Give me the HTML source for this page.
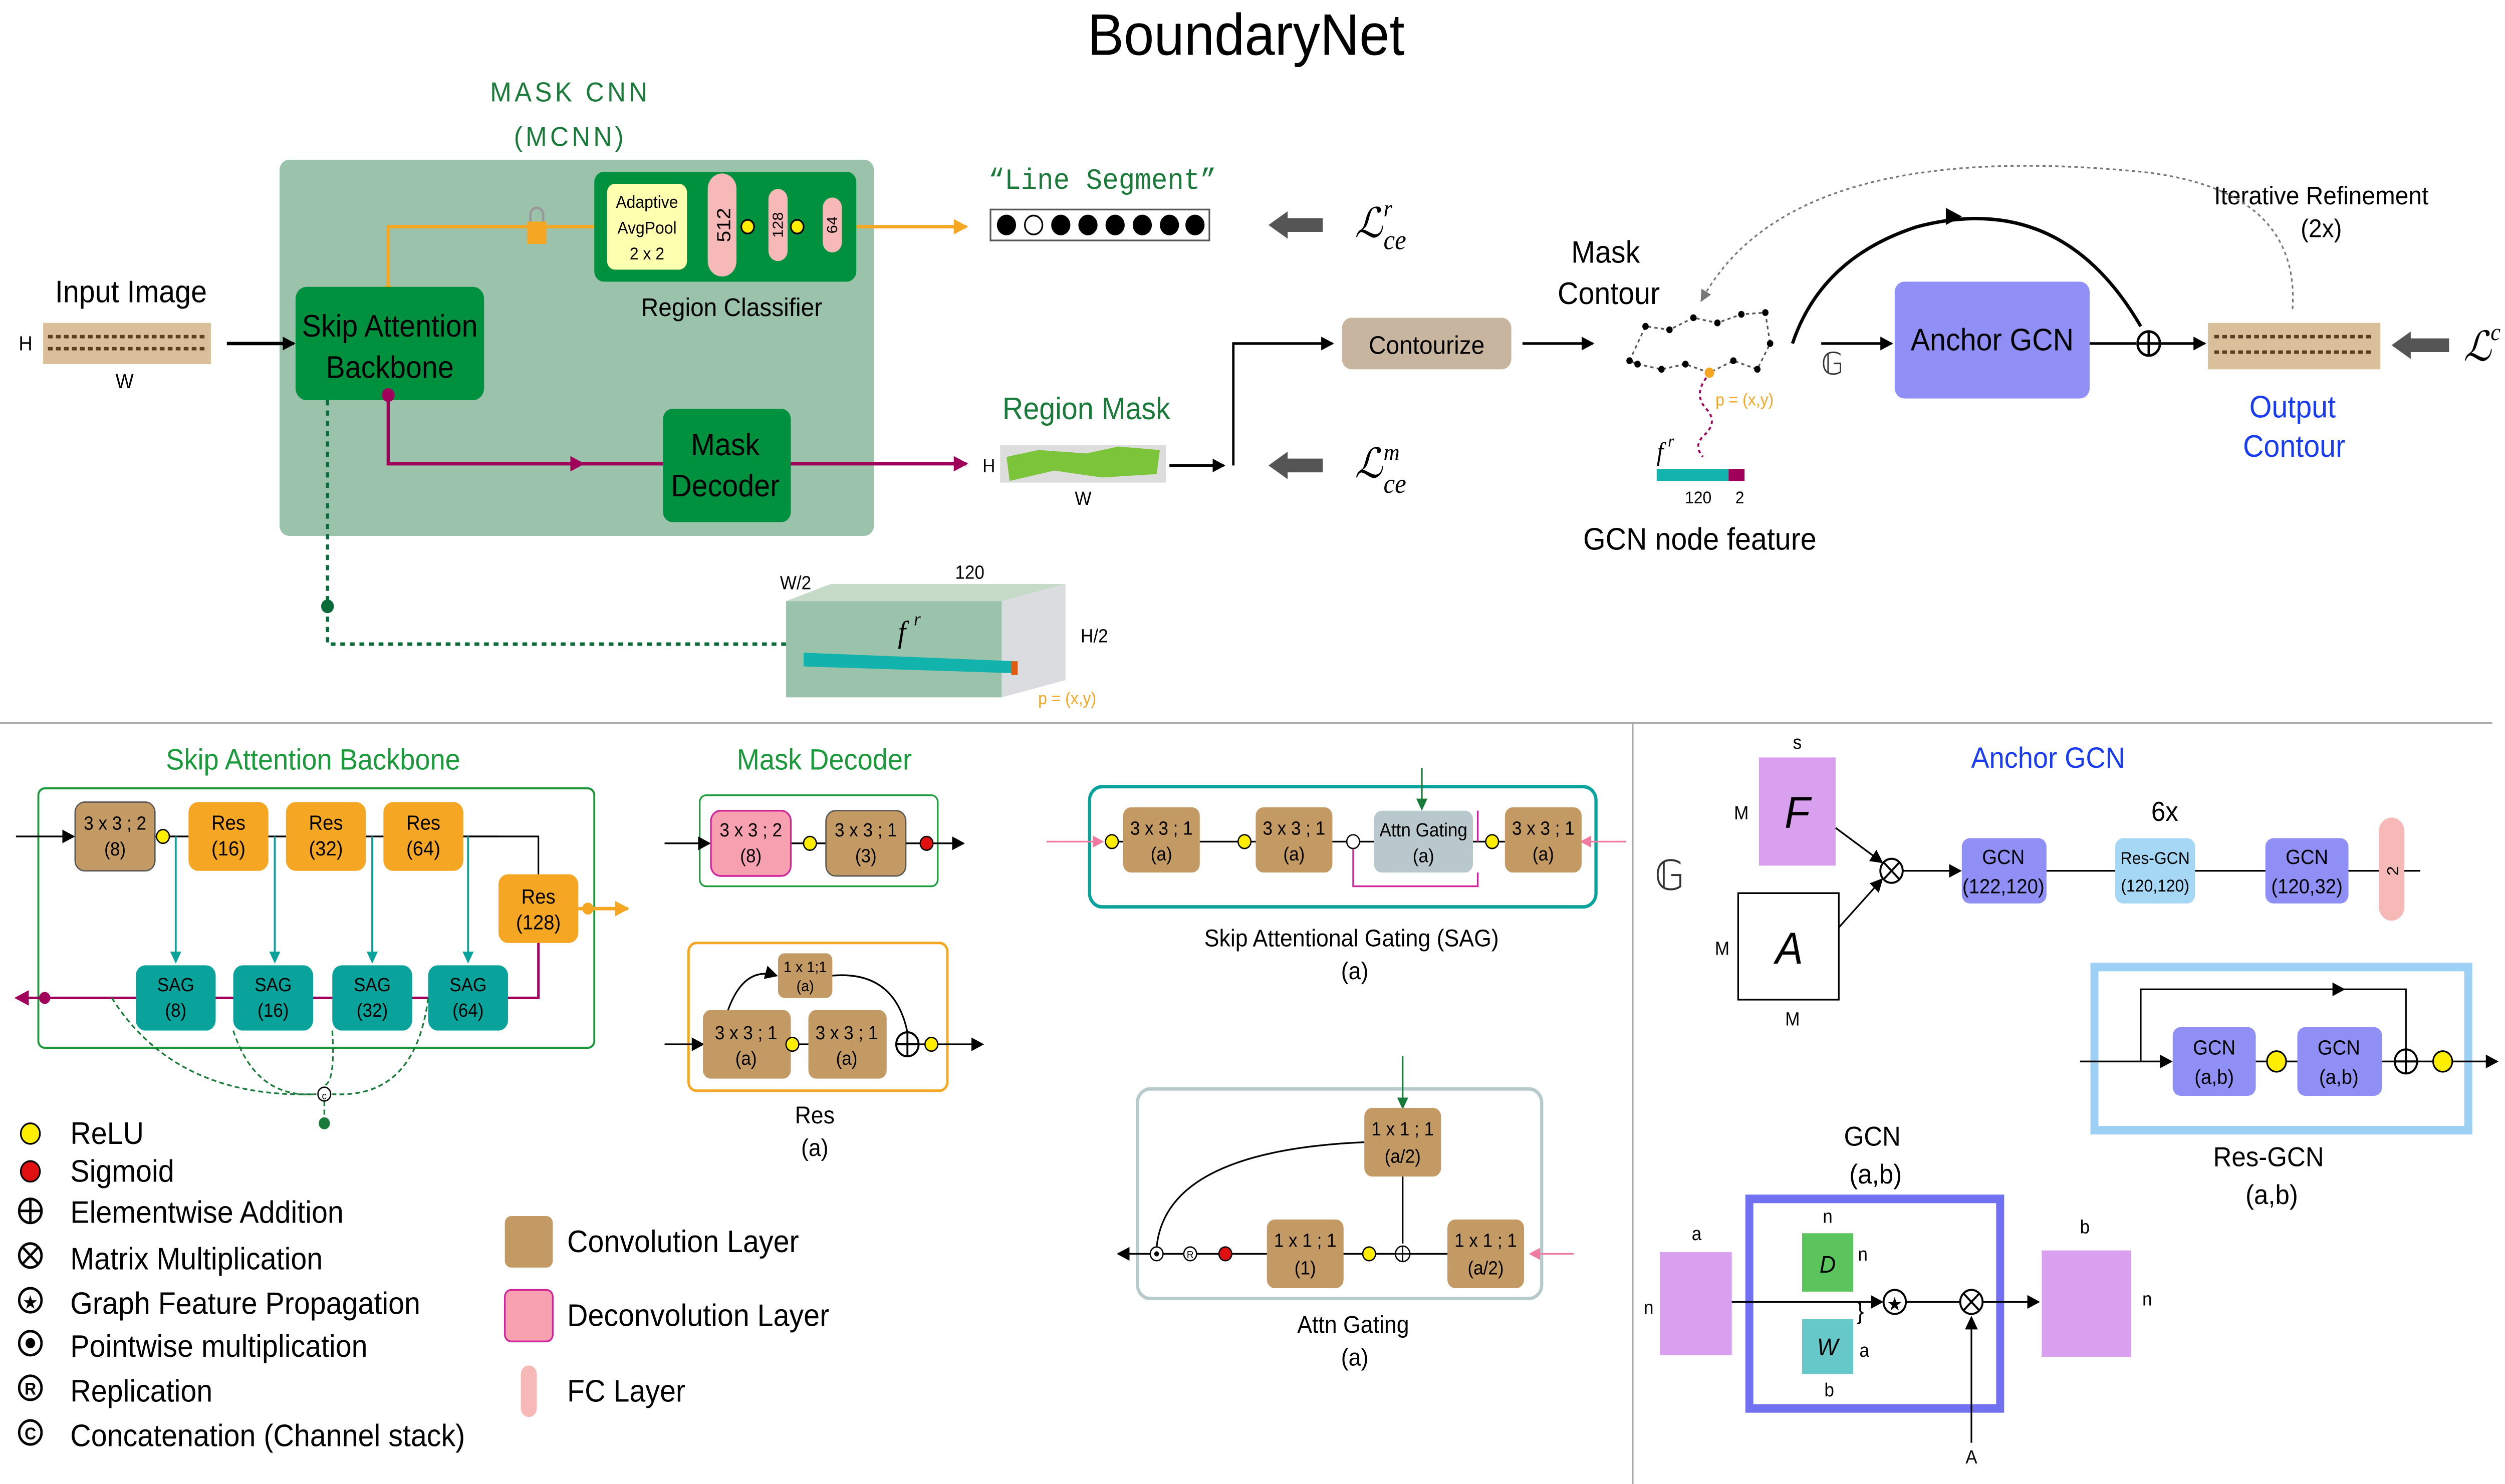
<!DOCTYPE html>
<html><head><meta charset="utf-8"><style>
html,body{margin:0;padding:0;background:#fff;width:100%;height:100%;overflow:hidden}
svg{display:block;position:fixed;left:0;top:0;width:100vw;height:100vh}
text{font-family:"Liberation Sans",sans-serif}
.serif{font-family:"Liberation Serif",serif;font-style:italic}
.mono{font-family:"Liberation Mono",monospace}
</style></head><body>
<svg viewBox="0 0 1568 864" preserveAspectRatio="none" xmlns="http://www.w3.org/2000/svg">
<defs>
<marker id="ab" markerWidth="8" markerHeight="8" refX="7" refY="4" orient="auto" markerUnits="userSpaceOnUse"><path d="M0,0 L8,4 L0,8z" fill="#000"/></marker>
<marker id="ao" markerWidth="9" markerHeight="9" refX="8" refY="4.5" orient="auto" markerUnits="userSpaceOnUse"><path d="M0,0 L9,4.5 L0,9z" fill="#f5a623"/></marker>
<marker id="am" markerWidth="9" markerHeight="9" refX="8" refY="4.5" orient="auto" markerUnits="userSpaceOnUse"><path d="M0,0 L9,4.5 L0,9z" fill="#a0005a"/></marker>
<marker id="at" markerWidth="7" markerHeight="7" refX="6" refY="3.5" orient="auto" markerUnits="userSpaceOnUse"><path d="M0,0 L7,3.5 L0,7z" fill="#0aa39b"/></marker>
<marker id="ag" markerWidth="7" markerHeight="7" refX="6" refY="3.5" orient="auto" markerUnits="userSpaceOnUse"><path d="M0,0 L7,3.5 L0,7z" fill="#1a7a3a"/></marker>
<marker id="ap" markerWidth="7" markerHeight="7" refX="6" refY="3.5" orient="auto" markerUnits="userSpaceOnUse"><path d="M0,0 L7,3.5 L0,7z" fill="#f07aa0"/></marker>
<marker id="agr" markerWidth="7" markerHeight="7" refX="6" refY="3.5" orient="auto" markerUnits="userSpaceOnUse"><path d="M0,0 L7,3.5 L0,7z" fill="#777"/></marker>
</defs>

<text x="780" y="32" font-size="34" text-anchor="middle">BoundaryNet</text>

<text x="357" y="59" font-size="16" fill="#1a7a3a" text-anchor="middle" letter-spacing="2">MASK CNN</text>
<text x="357" y="85" font-size="16" fill="#1a7a3a" text-anchor="middle" letter-spacing="2">(MCNN)</text>
<rect x="175" y="93" width="372" height="219" rx="6" fill="#9bc2ab"/>

<text x="82" y="176" font-size="18" text-anchor="middle">Input Image</text>
<rect x="27" y="188" width="105" height="24" fill="#d9c09a"/>
<path d="M30,196 h98 M30,203 h98" stroke="#5a4020" stroke-width="2" stroke-dasharray="3 2"/>
<text x="16" y="204" font-size="12" text-anchor="middle">H</text>
<text x="78" y="226" font-size="12" text-anchor="middle">W</text>
<line x1="142" y1="200" x2="184" y2="200" stroke="#000" stroke-width="2" marker-end="url(#ab)"/>

<path d="M243,170 V132 H605" fill="none" stroke="#f5a623" stroke-width="2" marker-end="url(#ao)"/>
<circle cx="243" cy="170" r="4" fill="#f5a623"/>
<rect x="330" y="129" width="12" height="13" fill="#f5a623"/>
<path d="M332,129 v-4 a4,4 0 0 1 8,0 v4" fill="none" stroke="#999" stroke-width="1.5"/>

<rect x="185" y="167" width="118" height="66" rx="7" fill="#00913f"/>
<text x="244" y="196" font-size="18" text-anchor="middle">Skip Attention</text>
<text x="244" y="220" font-size="18" text-anchor="middle">Backbone</text>

<rect x="372" y="100" width="164" height="64" rx="6" fill="#00913f"/>
<rect x="380" y="107" width="50" height="50" rx="5" fill="#ffffb0"/>
<text x="405" y="121" font-size="10" text-anchor="middle">Adaptive</text>
<text x="405" y="136" font-size="10" text-anchor="middle">AvgPool</text>
<text x="405" y="151" font-size="10" text-anchor="middle">2 x 2</text>
<rect x="443" y="101" width="18" height="60" rx="9" fill="#f7b8b8"/>
<text x="457" y="131" font-size="12" text-anchor="middle" transform="rotate(-90 457 131)">512</text>
<circle cx="468" cy="132" r="4" fill="#ffee00" stroke="#000" stroke-width="1"/>
<rect x="481" y="110" width="12" height="42" rx="6" fill="#f7b8b8"/>
<text x="490" y="131" font-size="9" text-anchor="middle" transform="rotate(-90 490 131)">128</text>
<circle cx="499" cy="132" r="4" fill="#ffee00" stroke="#000" stroke-width="1"/>
<rect x="515" y="115" width="12" height="32" rx="6" fill="#f7b8b8"/>
<text x="524" y="131" font-size="9" text-anchor="middle" transform="rotate(-90 524 131)">64</text>
<text x="458" y="184" font-size="15" text-anchor="middle">Region Classifier</text>

<path d="M243,230 V270 H365" fill="none" stroke="#a0005a" stroke-width="2" marker-end="url(#am)"/>
<line x1="365" y1="270" x2="415" y2="270" stroke="#a0005a" stroke-width="2"/>
<circle cx="243" cy="230" r="4" fill="#a0005a"/>
<rect x="415" y="238" width="80" height="66" rx="6" fill="#00913f"/>
<text x="454" y="265" font-size="18" text-anchor="middle">Mask</text>
<text x="454" y="289" font-size="18" text-anchor="middle">Decoder</text>
<line x1="495" y1="270" x2="605" y2="270" stroke="#a0005a" stroke-width="2" marker-end="url(#am)"/>

<text x="690" y="110" font-size="17" fill="#1a7a3a" text-anchor="middle" class="mono">“Line Segment”</text>
<rect x="620" y="122" width="137" height="18" fill="#fff" stroke="#555" stroke-width="1"/>
<g fill="#000"><circle cx="630" cy="131" r="6"/><circle cx="664" cy="131" r="6"/><circle cx="681" cy="131" r="6"/><circle cx="698" cy="131" r="6"/><circle cx="715" cy="131" r="6"/><circle cx="732" cy="131" r="6"/><circle cx="748" cy="131" r="6"/></g>
<circle cx="647" cy="131" r="5.5" fill="#fff" stroke="#000" stroke-width="1"/>
<path d="M794,131 l12,-8 v4 h22 v8 h-22 v4z" fill="#555"/>
<text x="848" y="138" font-size="24" class="serif">ℒ</text>
<text x="866" y="126" font-size="14" class="serif">r</text>
<text x="866" y="145" font-size="16" class="serif">ce</text>

<text x="680" y="244" font-size="18" fill="#1a7a3a" text-anchor="middle">Region Mask</text>
<rect x="626" y="259" width="104" height="22" fill="#ddd"/>
<path d="M630,266 L650,262 L680,264 L700,260 L726,262 L724,276 L690,278 L660,274 L632,280z" fill="#7cc43a"/>
<text x="619" y="275" font-size="11" text-anchor="middle">H</text>
<text x="678" y="294" font-size="11" text-anchor="middle">W</text>
<line x1="732" y1="271" x2="766" y2="271" stroke="#000" stroke-width="1.5" marker-end="url(#ab)"/>
<path d="M772,271 V200 H834" fill="none" stroke="#000" stroke-width="1.5" marker-end="url(#ab)"/>
<path d="M794,271 l12,-8 v4 h22 v8 h-22 v4z" fill="#555"/>
<text x="848" y="278" font-size="24" class="serif">ℒ</text>
<text x="866" y="268" font-size="14" class="serif">m</text>
<text x="866" y="287" font-size="16" class="serif">ce</text>

<rect x="840" y="185" width="106" height="30" rx="6" fill="#c8b5a0"/>
<text x="893" y="206" font-size="15" text-anchor="middle">Contourize</text>
<line x1="953" y1="200" x2="997" y2="200" stroke="#000" stroke-width="1.5" marker-end="url(#ab)"/>

<text x="1005" y="153" font-size="18" text-anchor="middle">Mask</text>
<text x="1007" y="177" font-size="18" text-anchor="middle">Contour</text>
<path d="M1020,210 L1030,190 L1045,192 L1060,185 L1075,188 L1090,183 L1105,182 L1108,200 L1100,215 L1085,210 L1070,217 L1055,212 L1040,215 L1025,212 Z" fill="none" stroke="#555" stroke-width="1" stroke-dasharray="2 2"/>
<g fill="#000"><circle cx="1020" cy="210" r="2"/><circle cx="1030" cy="190" r="2"/><circle cx="1045" cy="192" r="2"/><circle cx="1060" cy="185" r="2"/><circle cx="1075" cy="188" r="2"/><circle cx="1090" cy="183" r="2"/><circle cx="1105" cy="182" r="2"/><circle cx="1108" cy="200" r="2"/><circle cx="1100" cy="215" r="2"/><circle cx="1085" cy="210" r="2"/><circle cx="1055" cy="212" r="2"/><circle cx="1040" cy="215" r="2"/><circle cx="1025" cy="212" r="2"/></g>
<circle cx="1070" cy="217" r="3" fill="#f5a623"/>
<text x="1092" y="236" font-size="10" fill="#f5a623" text-anchor="middle">p = (x,y)</text>
<path d="M1068,220 q-8,10 0,18 q8,8 -2,16 q-6,6 0,12" fill="none" stroke="#a0005a" stroke-width="1.2" stroke-dasharray="2 2"/>
<text x="1037" y="268" font-size="15" class="serif">f</text>
<text x="1044" y="260" font-size="10" class="serif">r</text>
<rect x="1037" y="273" width="45" height="7" fill="#13b3ad"/>
<rect x="1082" y="273" width="10" height="7" fill="#a0005a"/>
<text x="1063" y="293" font-size="10" text-anchor="middle">120</text>
<text x="1089" y="293" font-size="10" text-anchor="middle">2</text>
<text x="1064" y="320" font-size="18" text-anchor="middle">GCN node feature</text>

<text x="1147" y="218" font-size="18" text-anchor="middle" fill="#333">𝔾</text>
<path d="M1122,200 Q1140,150 1200,132 Q1290,110 1340,190" fill="none" stroke="#000" stroke-width="2"/>
<path d="M1218,121 l10,5 l-10,5z" fill="#000"/>
<line x1="1140" y1="200" x2="1184" y2="200" stroke="#000" stroke-width="1.5" marker-end="url(#ab)"/>
<rect x="1186" y="164" width="122" height="68" rx="6" fill="#8f8ff5"/>
<text x="1247" y="204" font-size="18" text-anchor="middle">Anchor GCN</text>
<line x1="1308" y1="200" x2="1337" y2="200" stroke="#000" stroke-width="1.5"/>
<circle cx="1345" cy="200" r="7" fill="#fff" stroke="#000" stroke-width="1.5"/>
<path d="M1338,200 h14 M1345,193 v14" stroke="#000" stroke-width="1.5"/>
<line x1="1352" y1="200" x2="1380" y2="200" stroke="#000" stroke-width="1.5" marker-end="url(#ab)"/>
<rect x="1382" y="188" width="108" height="27" fill="#d9c09a"/>
<path d="M1386,196 h100 M1386,205 h100" stroke="#5a4020" stroke-width="2" stroke-dasharray="3 2"/>
<text x="1435" y="243" font-size="18" fill="#1a3cf0" text-anchor="middle">Output</text>
<text x="1436" y="266" font-size="18" fill="#1a3cf0" text-anchor="middle">Contour</text>
<text x="1453" y="119" font-size="15" text-anchor="middle">Iterative Refinement</text>
<text x="1453" y="138" font-size="15" text-anchor="middle">(2x)</text>
<path d="M1435,180 Q1440,110 1340,100 Q1120,80 1065,175" fill="none" stroke="#777" stroke-width="1" stroke-dasharray="2 2" marker-end="url(#agr)"/>
<path d="M1497,201 l12,-8 v4 h24 v8 h-24 v4z" fill="#555"/>
<text x="1542" y="210" font-size="24" class="serif">ℒ</text>
<text x="1559" y="198" font-size="14" class="serif">c</text>

<path d="M205,233 V375 H492" fill="none" stroke="#0a6a3a" stroke-width="2" stroke-dasharray="3 3"/>
<circle cx="205" cy="353" r="4" fill="#0a6a3a"/>
<path d="M492,350 L520,340 L667,340 L627,350z" fill="#c6dac8"/>
<path d="M627,350 L667,340 L667,396 L627,406z" fill="#dadce0"/>
<rect x="492" y="350" width="135" height="56" fill="#9bc2ab"/>
<path d="M503,380 L637,385 L637,392 L503,388z" fill="#13b3ad"/>
<rect x="633" y="385" width="4" height="8" fill="#e05a10"/>
<text x="498" y="343" font-size="11" text-anchor="middle">W/2</text>
<text x="607" y="337" font-size="11" text-anchor="middle">120</text>
<text x="685" y="374" font-size="11" text-anchor="middle">H/2</text>
<text x="562" y="374" font-size="18" class="serif">f</text>
<text x="572" y="364" font-size="11" class="serif">r</text>
<text x="668" y="410" font-size="10" fill="#f5a623" text-anchor="middle">p = (x,y)</text>

<line x1="0" y1="421" x2="1560" y2="421" stroke="#aaa" stroke-width="1"/>
<line x1="1022" y1="421" x2="1022" y2="864" stroke="#aaa" stroke-width="1"/>

<text x="196" y="448" font-size="17" fill="#1a9a3a" text-anchor="middle">Skip Attention Backbone</text>
<rect x="24" y="459" width="348" height="151" rx="4" fill="none" stroke="#1a9a3a" stroke-width="1.2"/>
<line x1="10" y1="487" x2="46" y2="487" stroke="#000" stroke-width="1" marker-end="url(#ab)"/>
<line x1="97" y1="487" x2="312" y2="487" stroke="#000" stroke-width="1"/>
<path d="M290,487 H337 V509" fill="none" stroke="#000" stroke-width="1"/>
<rect x="47" y="467" width="50" height="40" rx="6" fill="#c49a64" stroke="#555" stroke-width="0.8"/>
<text x="72" y="483" font-size="11" text-anchor="middle">3 x 3 ; 2</text>
<text x="72" y="498" font-size="11" text-anchor="middle">(8)</text>
<circle cx="102" cy="487" r="4" fill="#ffee00" stroke="#000" stroke-width="0.8"/>
<g font-size="12" text-anchor="middle">
<rect x="118" y="467" width="50" height="40" rx="6" fill="#f5a623"/><text x="143" y="483">Res</text><text x="143" y="498">(16)</text>
<rect x="179" y="467" width="50" height="40" rx="6" fill="#f5a623"/><text x="204" y="483">Res</text><text x="204" y="498">(32)</text>
<rect x="240" y="467" width="50" height="40" rx="6" fill="#f5a623"/><text x="265" y="483">Res</text><text x="265" y="498">(64)</text>
<rect x="312" y="509" width="50" height="40" rx="6" fill="#f5a623"/><text x="337" y="526">Res</text><text x="337" y="541">(128)</text>
</g>
<line x1="362" y1="529" x2="393" y2="529" stroke="#f5a623" stroke-width="2" marker-end="url(#ao)"/>
<circle cx="368" cy="529" r="3.5" fill="#f5a623"/>
<g stroke="#0aa39b" stroke-width="1.2">
<line x1="110" y1="487" x2="110" y2="560" marker-end="url(#at)"/>
<line x1="172" y1="487" x2="172" y2="560" marker-end="url(#at)"/>
<line x1="233" y1="487" x2="233" y2="560" marker-end="url(#at)"/>
<line x1="293" y1="487" x2="293" y2="560" marker-end="url(#at)"/>
</g>
<path d="M337,549 V581 H10" fill="none" stroke="#a0005a" stroke-width="1.5" marker-end="url(#am)"/>
<circle cx="28" cy="581" r="3.5" fill="#a0005a"/>
<g font-size="11" text-anchor="middle">
<rect x="85" y="562" width="50" height="38" rx="6" fill="#0aa39b"/><text x="110" y="577">SAG</text><text x="110" y="592">(8)</text>
<rect x="146" y="562" width="50" height="38" rx="6" fill="#0aa39b"/><text x="171" y="577">SAG</text><text x="171" y="592">(16)</text>
<rect x="208" y="562" width="50" height="38" rx="6" fill="#0aa39b"/><text x="233" y="577">SAG</text><text x="233" y="592">(32)</text>
<rect x="268" y="562" width="50" height="38" rx="6" fill="#0aa39b"/><text x="293" y="577">SAG</text><text x="293" y="592">(64)</text>
</g>
<g fill="none" stroke="#1a7a3a" stroke-width="1" stroke-dasharray="3 2">
<path d="M70,581 Q110,640 198,637"/><path d="M146,600 Q160,640 198,637"/><path d="M208,600 Q210,630 203,632"/><path d="M268,581 Q260,640 208,637"/>
<line x1="203" y1="641" x2="203" y2="652"/>
</g>
<circle cx="203" cy="637" r="4" fill="#fff" stroke="#000" stroke-width="0.8"/><text x="203" y="640" font-size="6" text-anchor="middle">c</text>
<circle cx="203" cy="654" r="3.5" fill="#1a7a3a"/>

<text x="516" y="448" font-size="17" fill="#1a9a3a" text-anchor="middle">Mask Decoder</text>
<rect x="438" y="463" width="149" height="53" rx="4" fill="none" stroke="#1a9a3a" stroke-width="1"/>
<line x1="416" y1="491" x2="444" y2="491" stroke="#000" stroke-width="1" marker-end="url(#ab)"/>
<line x1="495" y1="491" x2="517" y2="491" stroke="#000" stroke-width="1"/>
<rect x="445" y="472" width="50" height="38" rx="6" fill="#f7a0b0" stroke="#d0209a" stroke-width="1"/>
<text x="470" y="487" font-size="11" text-anchor="middle">3 x 3 ; 2</text><text x="470" y="502" font-size="11" text-anchor="middle">(8)</text>
<circle cx="507" cy="491" r="4" fill="#ffee00" stroke="#000" stroke-width="0.8"/>
<rect x="517" y="472" width="50" height="38" rx="6" fill="#c49a64" stroke="#555" stroke-width="0.8"/>
<text x="542" y="487" font-size="11" text-anchor="middle">3 x 3 ; 1</text><text x="542" y="502" font-size="11" text-anchor="middle">(3)</text>
<line x1="567" y1="491" x2="603" y2="491" stroke="#000" stroke-width="1" marker-end="url(#ab)"/>
<circle cx="580" cy="491" r="4" fill="#e01010" stroke="#000" stroke-width="0.8"/>

<rect x="431" y="549" width="162" height="86" rx="5" fill="none" stroke="#f5a623" stroke-width="1.5"/>
<line x1="416" y1="608" x2="440" y2="608" stroke="#000" stroke-width="1" marker-end="url(#ab)"/>
<path d="M455,590 Q465,562 486,568" fill="none" stroke="#000" stroke-width="1" marker-end="url(#ab)"/>
<path d="M521,568 Q560,565 568,601" fill="none" stroke="#000" stroke-width="1"/>
<rect x="487" y="555" width="34" height="26" rx="4" fill="#c49a64"/>
<text x="504" y="566" font-size="9" text-anchor="middle">1 x 1;1</text><text x="504" y="577" font-size="9" text-anchor="middle">(a)</text>
<line x1="495" y1="608" x2="506" y2="608" stroke="#000"/>
<line x1="561" y1="608" x2="615" y2="608" stroke="#000" marker-end="url(#ab)"/>
<rect x="440" y="588" width="55" height="40" rx="5" fill="#c49a64"/>
<text x="467" y="605" font-size="11" text-anchor="middle">3 x 3 ; 1</text><text x="467" y="620" font-size="11" text-anchor="middle">(a)</text>
<circle cx="496" cy="608" r="4" fill="#ffee00" stroke="#000" stroke-width="0.8"/>
<rect x="506" y="588" width="49" height="40" rx="5" fill="#c49a64"/>
<text x="530" y="605" font-size="11" text-anchor="middle">3 x 3 ; 1</text><text x="530" y="620" font-size="11" text-anchor="middle">(a)</text>
<circle cx="568" cy="608" r="7" fill="#fff" stroke="#000" stroke-width="1.2"/><path d="M561,608 h14 M568,601 v14" stroke="#000" stroke-width="1.2"/>
<circle cx="583" cy="608" r="4" fill="#ffee00" stroke="#000" stroke-width="0.8"/>
<text x="510" y="654" font-size="14" text-anchor="middle">Res</text><text x="510" y="673" font-size="14" text-anchor="middle">(a)</text>

<rect x="682" y="458" width="317" height="70" rx="8" fill="none" stroke="#0aa39b" stroke-width="2"/>
<line x1="655" y1="490" x2="690" y2="490" stroke="#f07aa0" stroke-width="1" marker-end="url(#ap)"/>
<line x1="1018" y1="490" x2="990" y2="490" stroke="#f07aa0" stroke-width="1" marker-end="url(#ap)"/>
<line x1="890" y1="447" x2="890" y2="471" stroke="#1a7a3a" stroke-width="1" marker-end="url(#ag)"/>
<line x1="700" y1="490" x2="942" y2="490" stroke="#000" stroke-width="1"/>
<path d="M847,494 V516 H925 V508 M925,490 V472" fill="none" stroke="#d0209a" stroke-width="1"/>
<circle cx="696" cy="490" r="4" fill="#ffee00" stroke="#000" stroke-width="0.8"/>
<g font-size="11" text-anchor="middle">
<rect x="703" y="470" width="48" height="38" rx="5" fill="#c49a64"/><text x="727" y="486">3 x 3 ; 1</text><text x="727" y="501">(a)</text>
<circle cx="779" cy="490" r="4" fill="#ffee00" stroke="#000" stroke-width="0.8"/>
<rect x="786" y="470" width="48" height="38" rx="5" fill="#c49a64"/><text x="810" y="486">3 x 3 ; 1</text><text x="810" y="501">(a)</text>
<circle cx="847" cy="490" r="4" fill="#fff" stroke="#000" stroke-width="0.8"/>
<rect x="860" y="472" width="62" height="36" rx="5" fill="#b8c8cc"/><text x="891" y="487">Attn Gating</text><text x="891" y="502">(a)</text>
<circle cx="934" cy="490" r="4" fill="#ffee00" stroke="#000" stroke-width="0.8"/>
<rect x="942" y="470" width="48" height="38" rx="5" fill="#c49a64"/><text x="966" y="486">3 x 3 ; 1</text><text x="966" y="501">(a)</text>
</g>
<text x="846" y="551" font-size="14" text-anchor="middle">Skip Attentional Gating (SAG)</text>
<text x="848" y="570" font-size="14" text-anchor="middle">(a)</text>

<rect x="712" y="634" width="253" height="122" rx="8" fill="none" stroke="#b7cacd" stroke-width="2"/>
<line x1="878" y1="615" x2="878" y2="645" stroke="#1a7a3a" stroke-width="1" marker-end="url(#ag)"/>
<line x1="878" y1="685" x2="878" y2="724" stroke="#000" stroke-width="1"/>
<line x1="985" y1="730" x2="958" y2="730" stroke="#f07aa0" stroke-width="1" marker-end="url(#ap)"/>
<line x1="906" y1="730" x2="700" y2="730" stroke="#000" stroke-width="1" marker-end="url(#ab)"/>
<path d="M724,726 Q730,670 854,665" fill="none" stroke="#000" stroke-width="1"/>
<g font-size="11" text-anchor="middle">
<rect x="854" y="645" width="48" height="40" rx="5" fill="#c49a64"/><text x="878" y="661">1 x 1 ; 1</text><text x="878" y="677">(a/2)</text>
<rect x="793" y="710" width="48" height="40" rx="5" fill="#c49a64"/><text x="817" y="726">1 x 1 ; 1</text><text x="817" y="742">(1)</text>
<rect x="906" y="710" width="48" height="40" rx="5" fill="#c49a64"/><text x="930" y="726">1 x 1 ; 1</text><text x="930" y="742">(a/2)</text>
</g>
<circle cx="857" cy="730" r="4" fill="#ffee00" stroke="#000" stroke-width="0.8"/>
<circle cx="878" cy="730" r="4.5" fill="#fff" stroke="#000" stroke-width="0.8"/><path d="M873.5,730 h9 M878,725.5 v9" stroke="#000" stroke-width="0.8"/>
<circle cx="767" cy="730" r="4" fill="#e01010" stroke="#000" stroke-width="0.8"/>
<circle cx="745" cy="730" r="4" fill="#fff" stroke="#000" stroke-width="0.8"/><text x="745" y="732.5" font-size="6" text-anchor="middle">R</text>
<circle cx="724" cy="730" r="4" fill="#fff" stroke="#000" stroke-width="0.8"/><circle cx="724" cy="730" r="1.5" fill="#000"/>
<text x="847" y="776" font-size="14" text-anchor="middle">Attn Gating</text>
<text x="848" y="795" font-size="14" text-anchor="middle">(a)</text>

<g font-size="18">
<circle cx="19" cy="660" r="6" fill="#ffee00" stroke="#000" stroke-width="1"/><text x="44" y="666">ReLU</text>
<circle cx="19" cy="682" r="6" fill="#e01010" stroke="#000" stroke-width="1"/><text x="44" y="688">Sigmoid</text>
<circle cx="19" cy="705" r="7" fill="#fff" stroke="#000" stroke-width="1.5"/><path d="M12,705 h14 M19,698 v14" stroke="#000" stroke-width="1.5"/><text x="44" y="712">Elementwise Addition</text>
<circle cx="19" cy="731" r="7" fill="#fff" stroke="#000" stroke-width="1.5"/><path d="M14,726 l10,10 M24,726 l-10,10" stroke="#000" stroke-width="1.5"/><text x="44" y="739">Matrix Multiplication</text>
<circle cx="19" cy="757" r="7" fill="#fff" stroke="#000" stroke-width="1.5"/><text x="19" y="762" font-size="11" text-anchor="middle">★</text><text x="44" y="765">Graph Feature Propagation</text>
<circle cx="19" cy="782" r="7" fill="#fff" stroke="#000" stroke-width="1.5"/><circle cx="19" cy="782" r="3" fill="#000"/><text x="44" y="790">Pointwise multiplication</text>
<circle cx="19" cy="808" r="7" fill="#fff" stroke="#000" stroke-width="1.5"/><text x="19" y="812" font-size="10" font-weight="bold" text-anchor="middle">R</text><text x="44" y="816">Replication</text>
<circle cx="19" cy="834" r="7" fill="#fff" stroke="#000" stroke-width="1.5"/><text x="19" y="838" font-size="10" font-weight="bold" text-anchor="middle">C</text><text x="44" y="842">Concatenation (Channel stack)</text>
<rect x="316" y="708" width="30" height="30" rx="4" fill="#c49a64"/><text x="355" y="729">Convolution Layer</text>
<rect x="316" y="751" width="30" height="30" rx="4" fill="#f7a0b0" stroke="#d0209a" stroke-width="1"/><text x="355" y="772">Deconvolution Layer</text>
<rect x="326" y="795" width="10" height="30" rx="5" fill="#f7b8b8"/><text x="355" y="816">FC Layer</text>
</g>

<text x="1282" y="447" font-size="17" fill="#1a3cf0" text-anchor="middle">Anchor GCN</text>
<text x="1045" y="518" font-size="24" text-anchor="middle" fill="#333">𝔾</text>
<rect x="1101" y="441" width="48" height="63" fill="#d9a0f0"/>
<text x="1125" y="482" font-size="26" font-style="italic" text-anchor="middle">F</text>
<text x="1125" y="436" font-size="11" text-anchor="middle">s</text>
<text x="1090" y="477" font-size="11" text-anchor="middle">M</text>
<rect x="1088" y="520" width="63" height="62" fill="#fff" stroke="#000" stroke-width="1"/>
<text x="1120" y="561" font-size="26" font-style="italic" text-anchor="middle">A</text>
<text x="1078" y="556" font-size="11" text-anchor="middle">M</text>
<text x="1122" y="597" font-size="11" text-anchor="middle">M</text>
<line x1="1149" y1="482" x2="1178" y2="502" stroke="#000" stroke-width="1" marker-end="url(#ab)"/>
<line x1="1151" y1="540" x2="1178" y2="512" stroke="#000" stroke-width="1" marker-end="url(#ab)"/>
<circle cx="1184" cy="507" r="7" fill="#fff" stroke="#000" stroke-width="1.2"/><path d="M1179,502 l10,10 M1189,502 l-10,10" stroke="#000" stroke-width="1.2"/>
<line x1="1191" y1="507" x2="1227" y2="507" stroke="#000" stroke-width="1" marker-end="url(#ab)"/>
<line x1="1281" y1="507" x2="1515" y2="507" stroke="#000" stroke-width="1"/>
<g font-size="12" text-anchor="middle">
<rect x="1228" y="488" width="53" height="38" rx="5" fill="#8f8ff5"/><text x="1254" y="503">GCN</text><text x="1254" y="520">(122,120)</text>
<rect x="1324" y="488" width="50" height="38" rx="5" fill="#a6d8f5"/><text x="1349" y="503" font-size="10">Res-GCN</text><text x="1349" y="519" font-size="10">(120,120)</text>
<rect x="1418" y="488" width="52" height="38" rx="5" fill="#8f8ff5"/><text x="1444" y="503">GCN</text><text x="1444" y="520">(120,32)</text>
</g>
<text x="1355" y="478" font-size="16" text-anchor="middle">6x</text>
<rect x="1489" y="476" width="16" height="60" rx="8" fill="#f7b8b8"/>
<text x="1501" y="507" font-size="10" text-anchor="middle" transform="rotate(-90 1501 507)">2</text>

<rect x="1311" y="563" width="234" height="95" fill="none" stroke="#9cd0f5" stroke-width="5"/>
<line x1="1302" y1="618" x2="1359" y2="618" stroke="#000" stroke-width="1" marker-end="url(#ab)"/>
<line x1="1412" y1="618" x2="1438" y2="618" stroke="#000" stroke-width="1"/>
<line x1="1491" y1="618" x2="1563" y2="618" stroke="#000" stroke-width="1" marker-end="url(#ab)"/>
<path d="M1340,618 V576 H1506 V611" fill="none" stroke="#000" stroke-width="1"/>
<path d="M1460,572 l8,4 l-8,4z" fill="#000"/>
<g font-size="12" text-anchor="middle">
<rect x="1360" y="598" width="52" height="40" rx="5" fill="#8f8ff5"/><text x="1386" y="614">GCN</text><text x="1386" y="631">(a,b)</text>
<rect x="1438" y="598" width="53" height="40" rx="5" fill="#8f8ff5"/><text x="1464" y="614">GCN</text><text x="1464" y="631">(a,b)</text>
</g>
<circle cx="1425" cy="618" r="6" fill="#ffee00" stroke="#000" stroke-width="1"/>
<circle cx="1506" cy="618" r="7" fill="#fff" stroke="#000" stroke-width="1.2"/><path d="M1499,618 h14 M1506,611 v14" stroke="#000" stroke-width="1.2"/>
<circle cx="1529" cy="618" r="6" fill="#ffee00" stroke="#000" stroke-width="1"/>
<text x="1420" y="679" font-size="16" text-anchor="middle">Res-GCN</text>
<text x="1422" y="701" font-size="16" text-anchor="middle">(a,b)</text>

<text x="1172" y="667" font-size="16" text-anchor="middle">GCN</text>
<text x="1174" y="689" font-size="16" text-anchor="middle">(a,b)</text>
<rect x="1095" y="698" width="157" height="122" fill="none" stroke="#7070f0" stroke-width="5"/>
<rect x="1039" y="729" width="45" height="60" fill="#d9a0f0"/>
<text x="1062" y="722" font-size="11" text-anchor="middle">a</text>
<text x="1032" y="765" font-size="11" text-anchor="middle">n</text>
<rect x="1278" y="728" width="56" height="62" fill="#d9a0f0"/>
<text x="1305" y="718" font-size="11" text-anchor="middle">b</text>
<text x="1344" y="760" font-size="11" text-anchor="middle">n</text>
<line x1="1084" y1="758" x2="1178" y2="758" stroke="#000" stroke-width="1" marker-end="url(#ab)"/>
<line x1="1193" y1="758" x2="1227" y2="758" stroke="#000" stroke-width="1"/>
<line x1="1241" y1="758" x2="1276" y2="758" stroke="#000" stroke-width="1" marker-end="url(#ab)"/>
<line x1="1234" y1="840" x2="1234" y2="767" stroke="#000" stroke-width="1" marker-end="url(#ab)"/>
<text x="1234" y="852" font-size="11" text-anchor="middle">A</text>
<rect x="1128" y="718" width="32" height="34" fill="#5cc45c"/>
<text x="1144" y="741" font-size="14" font-style="italic" text-anchor="middle">D</text>
<text x="1144" y="712" font-size="11" text-anchor="middle">n</text>
<text x="1166" y="734" font-size="11" text-anchor="middle">n</text>
<rect x="1128" y="768" width="32" height="32" fill="#66c8c8"/>
<text x="1144" y="789" font-size="14" font-style="italic" text-anchor="middle">W</text>
<text x="1167" y="790" font-size="11" text-anchor="middle">a</text>
<text x="1145" y="813" font-size="11" text-anchor="middle">b</text>
<text x="1162" y="768" font-size="14">}</text>
<circle cx="1186" cy="758" r="7" fill="#fff" stroke="#000" stroke-width="1.2"/><text x="1186" y="763" font-size="11" text-anchor="middle">★</text>
<circle cx="1234" cy="758" r="7" fill="#fff" stroke="#000" stroke-width="1.2"/><path d="M1229,753 l10,10 M1239,753 l-10,10" stroke="#000" stroke-width="1.2"/>
</svg>
</body></html>
